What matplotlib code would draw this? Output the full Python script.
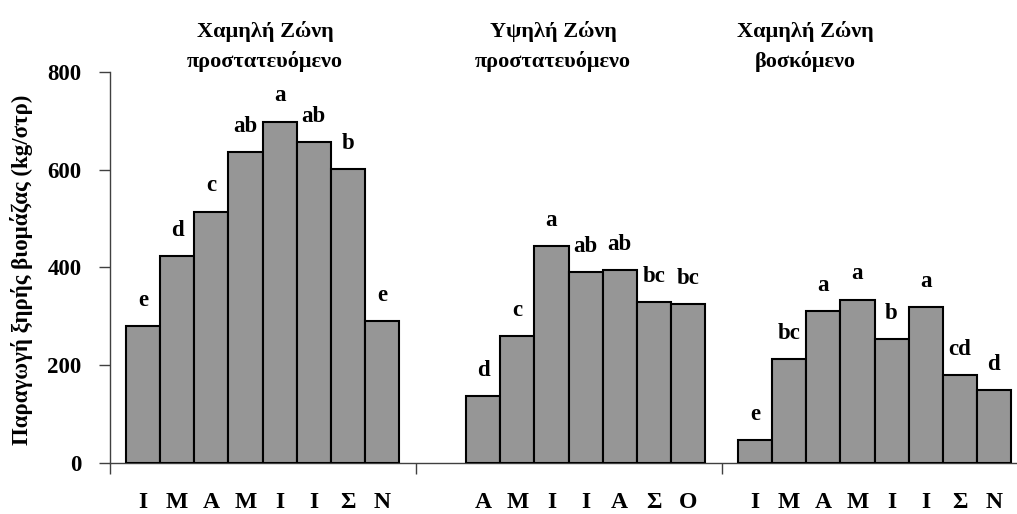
import matplotlib.pyplot as plt
import numpy as np

plt.rcParams['font.family'] = ['Liberation Serif', 'DejaVu Serif']
plt.rcParams['font.weight'] = 'bold'

# three zones, up to 8 monthly samples each (first slot empty in zone 2)
zone1_vals = [280, 423, 514, 636, 698, 657, 601, 290]
zone1_sig = ['e', 'd', 'c', 'ab', 'a', 'ab', 'b', 'e']
zone1_months = ['Ι', 'Μ', 'Α', 'Μ', 'Ι', 'Ι', 'Σ', 'Ν']

zone2_vals = [None, 137, 260, 444, 391, 395, 329, 325]
zone2_sig = [None, 'd', 'c', 'a', 'ab', 'ab', 'bc', 'bc']
zone2_months = [None, 'Α', 'Μ', 'Ι', 'Ι', 'Α', 'Σ', 'Ο']

zone3_vals = [47, 212, 310, 334, 253, 318, 179, 149]
zone3_sig = ['e', 'bc', 'a', 'a', 'b', 'a', 'cd', 'd']
zone3_months = ['Ι', 'Μ', 'Α', 'Μ', 'Ι', 'Ι', 'Σ', 'Ν']

titles = [('Χαμηλή Ζώνη', 'προστατευόμενο'),
          ('Υψηλή Ζώνη', 'προστατευόμενο'),
          ('Χαμηλή Ζώνη', 'βοσκόμενο')]

zones = [(zone1_vals, zone1_sig, zone1_months),
         (zone2_vals, zone2_sig, zone2_months),
         (zone3_vals, zone3_sig, zone3_months)]

fig = plt.figure(figsize=(10.17, 5.14), dpi=100)
ax = fig.add_axes([109.5 / 1017, 51 / 514, 918 / 1017, 391.3 / 514])

w = 0.1115
centers, labels = [], []
for c, (vals, sig, months) in enumerate(zones):
    for s in range(8):
        if vals[s] is None:
            continue
        x = c + (s - 3.5) * w
        ax.bar(x, vals[s], width=w, color='#969696', edgecolor='black',
               linewidth=1.5, zorder=3)
        ax.annotate(sig[s], (x, vals[s]), xytext=(0, 14.5), textcoords='offset points',
                    ha='center', va='baseline', fontsize=16.5, fontweight='bold')
        centers.append(x)
        labels.append(months[s])

ax.set_xlim(-0.5, 2.5)
ax.set_ylim(0, 800)
ax.set_yticks([0, 200, 400, 600, 800])
ax.tick_params(axis='y', length=8, width=1, color='#404040', pad=12, labelsize=16.5)
ax.set_xticks([-0.5, 0.5, 1.5, 2.5])
ax.set_xticklabels([])
ax.tick_params(axis='x', which='major', length=8, width=1, color='#404040')
for x, lab in zip(centers, labels):
    ax.text(x, -44.5 / 391.3, lab, transform=ax.get_xaxis_transform(),
            ha='center', va='baseline', fontsize=17, fontweight='bold')

for side in ['top', 'right']:
    ax.spines[side].set_visible(False)
for side in ['left', 'bottom']:
    ax.spines[side].set_color('#404040')
    ax.spines[side].set_linewidth(1)

title_x = [265 / 1017, 553 / 1017, 805 / 1017]
for tx, (l1, l2) in zip(title_x, titles):
    fig.text(tx, 1 - 37 / 514, l1, ha='center', va='baseline', fontsize=16, fontweight='bold')
    fig.text(tx, 1 - 67 / 514, l2, ha='center', va='baseline', fontsize=16, fontweight='bold')

fig.text(22 / 1017, 1 - 270 / 514, 'Παραγωγή ξηρής βιομάζας (kg/στρ)', rotation=90,
         ha='center', va='center', fontsize=16.5, fontweight='bold')

fig.savefig('out.png', dpi=100)
